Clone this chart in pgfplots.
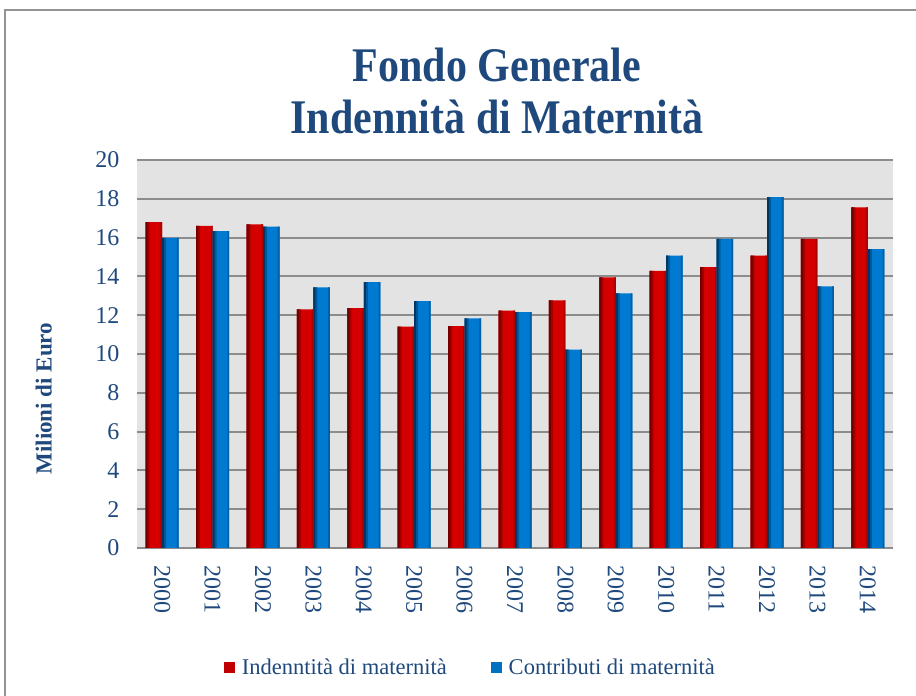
\documentclass[border=0pt]{standalone}
\usepackage{pgfplots}
\pgfplotsset{compat=1.18}
\usepackage{fontspec}
\setmainfont{Liberation Serif}
\definecolor{navy}{RGB}{31,73,125}
\definecolor{gridgray}{RGB}{140,140,140}
\definecolor{bggray}{RGB}{227,227,227}
\definecolor{rdark}{RGB}{115,0,0}
\definecolor{rmid}{RGB}{165,0,0}
\definecolor{rmain}{RGB}{212,0,0}
\definecolor{rright}{RGB}{175,0,0}
\definecolor{bdark}{RGB}{0,55,100}
\definecolor{bmid}{RGB}{0,90,155}
\definecolor{bmain}{RGB}{0,122,208}
\definecolor{bright}{RGB}{0,95,165}
\definecolor{myred}{RGB}{192,0,0}
\definecolor{myblue}{RGB}{0,112,192}
\pgfplotstableread{
x red blue
0 16.80 15.98
1 16.61 16.34
2 16.68 16.56
3 12.30 13.44
4 12.37 13.71
5 11.41 12.72
6 11.44 11.84
7 12.23 12.16
8 12.77 10.22
9 13.95 13.13
10 14.29 15.07
11 14.48 15.93
12 15.07 18.09
13 15.93 13.49
14 17.56 15.41
}\datatable
\begin{document}
\begin{tikzpicture}
\useasboundingbox (0pt,0pt) rectangle (916pt,696pt);
\draw[gray!85, line width=2pt] (5pt,0pt) -- (5pt,686pt) -- (920pt,686pt);
\node[text=navy, font=\bfseries\fontsize{42}{50}\selectfont, align=center] at (497pt,605pt)
  {\scalebox{1}[1.15]{Fondo Generale}\\[2pt]\scalebox{1}[1.15]{Indennità di Maternità}};
\begin{axis}[
  at={(137pt,148pt)}, anchor=south west,
  scale only axis, width=756pt, height=388pt,
  ybar=0pt,
  xmin=-0.5, xmax=14.5, ymin=0, ymax=20,
  ytick={0,2,...,20},
  xtick={0,...,14},
  xticklabels={2000,2001,2002,2003,2004,2005,2006,2007,2008,2009,2010,2011,2012,2013,2014},
  xticklabel style={rotate=-90, anchor=west, text=navy, font=\fontsize{24}{28}\selectfont},
  yticklabel style={text=navy, font=\fontsize{24}{28}\selectfont},
  /pgf/number format/assume math mode=true,
  major tick length=0pt,
  xtick style={draw=none}, ytick style={draw=none},
  ymajorgrids, grid style={gridgray, line width=2pt},
  axis line style={draw=none},
  axis background/.style={fill=bggray},
  ylabel={\textbf{Milioni di Euro}},
  ylabel style={text=navy, font=\fontsize{23}{26}\selectfont, at={(axis description cs:-0.108,0.385)}, anchor=south},
  xticklabel shift=14pt,
  yticklabel shift=14pt,
  legend columns=2,
  legend style={draw=none, fill=none, at={(axis description cs:0.441,-0.307)}, anchor=center,
    font=\fontsize{22.5}{26}\selectfont, text=navy,
    /tikz/every odd column/.append style={column sep=5pt},
    /tikz/every even column/.append style={column sep=42pt}},
]
% main bars
\addplot[draw=none, fill=rmain, bar width=16.5pt, bar shift=-8.25pt,
  legend image code/.code={\fill[myred] (0pt,-5.5pt) rectangle (11pt,5.5pt);}]
  table[x=x, y=red] {\datatable};
\addlegendentry{Indenntità di maternità}
\addplot[draw=none, fill=bmain, bar width=16.5pt, bar shift=8.25pt,
  legend image code/.code={\fill[myblue] (0pt,-5.5pt) rectangle (11pt,5.5pt);}]
  table[x=x, y=blue] {\datatable};
\addlegendentry{Contributi di maternità}
% shading strips (same data)
\addplot[draw=none, fill=rmid, bar width=4pt, bar shift=-14.5pt, forget plot] table[x=x, y=red] {\datatable};
\addplot[draw=none, fill=rdark, bar width=2pt, bar shift=-15.5pt, forget plot] table[x=x, y=red] {\datatable};
\addplot[draw=none, fill=rright, bar width=1.8pt, bar shift=-0.9pt, forget plot] table[x=x, y=red] {\datatable};
\addplot[draw=none, fill=bmid, bar width=4pt, bar shift=2pt, forget plot] table[x=x, y=blue] {\datatable};
\addplot[draw=none, fill=bdark, bar width=2pt, bar shift=1pt, forget plot] table[x=x, y=blue] {\datatable};
\addplot[draw=none, fill=bright, bar width=1.8pt, bar shift=15.6pt, forget plot] table[x=x, y=blue] {\datatable};
\end{axis}
\end{tikzpicture}
\end{document}
